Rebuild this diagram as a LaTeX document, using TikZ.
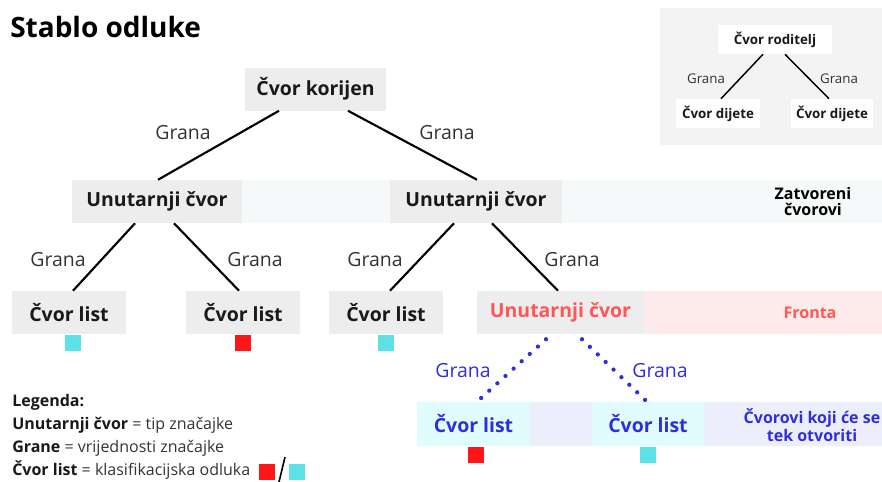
\documentclass[tikz,border=0pt]{standalone}
\usepackage{fontspec}
\setmainfont{Open Sans}
\usetikzlibrary{calc,positioning}

\definecolor{boxgray}{HTML}{EDEDED}
\definecolor{closedband}{HTML}{F5F9FA}
\definecolor{frontband}{HTML}{FDEBEB}
\definecolor{openband}{HTML}{ECEEFB}
\definecolor{openleaf}{HTML}{E0FCFD}
\definecolor{panelgray}{HTML}{F3F3F3}
\definecolor{frontred}{HTML}{FF5757}
\definecolor{openblue}{HTML}{2E2EDD}
\definecolor{classred}{HTML}{FF1616}
\definecolor{classcyan}{HTML}{5CE1E6}
\definecolor{inkgray}{HTML}{333333}

\begin{document}
\begin{tikzpicture}[x=0.75pt,y=-0.75pt,
    box/.style={fill=boxgray, inner sep=0pt, minimum height=32.25pt,
        font=\fontsize{14.6}{17}\selectfont\bfseries, text=black!90},
    smallbox/.style={fill=boxgray!95!black!2, inner sep=0pt, minimum height=21.75pt,
        font=\fontsize{10}{12}\selectfont\bfseries, text=black!90},
    grana/.style={font=\fontsize{14.6}{17}\selectfont, text=inkgray},
    bandtext/.style={font=\fontsize{12}{11.5}\selectfont\bfseries, align=center},
    branch/.style={line width=1.6pt},
    dotbranch/.style={openblue, line width=3.2pt, line cap=round, dash pattern=on 0pt off 8.2pt},
    classbox/.style={minimum size=12pt, inner sep=0pt},
    legend/.style={anchor=base west, inner sep=0pt, font=\fontsize{12}{14}\selectfont, text=inkgray}]
    \useasboundingbox (0,0) rectangle (882,482);

    % title
    \node (title) at (10,37) [anchor=base west, inner sep=0pt, font=\fontsize{21}{25}\selectfont\bfseries] {Stablo odluke};

    % bands behind the node rows
    \fill [closedband] (242,180) rectangle (882,223);
    \fill [frontband] (644,291) rectangle (882,334);
    \fill [openband] (530,402) rectangle (882,446);
    \fill [panelgray] (660,8) rectangle (882,145);

    % tree
    \node (root) at (315.5,89) [box, minimum width=105.75pt] {Čvor korijen};
    \node (int1) at (157,201.5) [box, minimum width=128pt] {Unutarnji čvor};
    \node (int2) at (476,201.5) [box, minimum width=129pt] {Unutarnji čvor};
    \node (leaf1) at (69,312.5) [box, minimum width=85.5pt] {Čvor list};
    \node (leaf2) at (243,312.5) [box, minimum width=85.5pt] {Čvor list};
    \node (leaf3) at (386,312.5) [box, minimum width=85.5pt] {Čvor list};
    \node (front) at (560.5,312.5) [box, minimum width=125.25pt, text=frontred] {Unutarnji čvor};
    \node (leaf4) at (473.5,424) [box, fill=openleaf, minimum width=84.75pt, minimum height=33pt, text=openblue] {Čvor list};
    \node (leaf5) at (648,424) [box, fill=openleaf, minimum width=84pt, minimum height=33pt, text=openblue] {Čvor list};

    \draw [branch] ($(root.south)+(-36.5,0)$) -- ($(int1.north)+(1,0)$);
    \draw [branch] ($(root.south)+(32.5,0)$) -- ($(int2.north)+(1,0)$);
    \draw [branch] ($(int1.south)+(-22,0)$) -- ($(leaf1.north)+(4,0)$);
    \draw [branch] ($(int1.south)+(17,0)$) -- ($(leaf2.north)+(-4,0)$);
    \draw [branch] ($(int2.south)+(-22,0)$) -- ($(leaf3.north)+(4,0)$);
    \draw [branch] ($(int2.south)+(16,0)$) -- ($(front.north)+(-2.5,0)$);
    \draw [dotbranch] ($(front.south)+(-14.5,5)$) -- ($(leaf4.north)+(3.5,0)$);
    \draw [dotbranch] ($(front.south)+(21.5,5)$) -- ($(leaf5.north)+(-1,0)$);

    \node (g1) at (183,133) [grana] {Grana};
    \node (g2) at (447,133) [grana] {Grana};
    \node (g3) at (58,260) [grana] {Grana};
    \node (g4) at (255,260) [grana] {Grana};
    \node (g5) at (375,260) [grana] {Grana};
    \node (g6) at (572,260) [grana] {Grana};
    \node (g7) at (463,371) [grana, text=openblue] {Grana};
    \node (g8) at (660,371) [grana, text=openblue] {Grana};

    % class squares
    \node (c1) [classbox, fill=classcyan, below=0.5pt of leaf1, xshift=3pt] {};
    \node (c2) [classbox, fill=classred, below=0.5pt of leaf2] {};
    \node (c3) [classbox, fill=classcyan, below=0.5pt of leaf3] {};
    \node (c4) [classbox, fill=classred, below=0.5pt of leaf4, xshift=2pt] {};
    \node (c5) [classbox, fill=classcyan, below=0.5pt of leaf5] {};

    % band labels
    \node (closed) at (813,201.5) [bandtext] {Zatvoreni\\čvorovi};
    \node (fronta) at (810,312.5) [bandtext, text=frontred] {Fronta};
    \node (open) at (812,425) [bandtext, text=openblue] {Čvorovi koji će se\\tek otvoriti};

    % small key tree
    \node (parent) at (775,39.5) [smallbox, minimum width=85.5pt] {Čvor roditelj};
    \node (child1) at (718,113.5) [smallbox, minimum width=63pt] {Čvor dijete};
    \node (child2) at (832,113.5) [smallbox, minimum width=61.5pt] {Čvor dijete};
    \draw [line width=1.1pt] ($(parent.south)+(-12,0)$) -- ($(child1.north)+(3,0)$);
    \draw [line width=1.1pt] ($(parent.south)+(10,0)$) -- ($(child2.north)+(-3,0)$);
    \node (kg1) at (706,79) [font=\fontsize{10}{12}\selectfont, text=inkgray] {Grana};
    \node (kg2) at (839,79) [font=\fontsize{10}{12}\selectfont, text=inkgray] {Grana};

    % legend
    \node (leg0) at (12,406) [legend, text=black!90] {\textbf{Legenda:}};
    \node (leg1) at (12,429) [legend] {\textcolor{black!90}{\textbf{Unutarnji čvor}} = tip značajke};
    \node (leg2) at (12,452) [legend] {\textcolor{black!90}{\textbf{Grane}} = vrijednosti značajke};
    \node (leg3) at (12,475) [legend] {\textcolor{black!90}{\textbf{Čvor list}} = klasifikacijska odluka};
    \node (lred) at (267,472) [classbox, fill=classred] {};
    \node (lcyan) at (297,472) [classbox, fill=classcyan] {};
    \draw [line width=1.2pt] (279,482) -- (285,457);
\end{tikzpicture}
\end{document}
